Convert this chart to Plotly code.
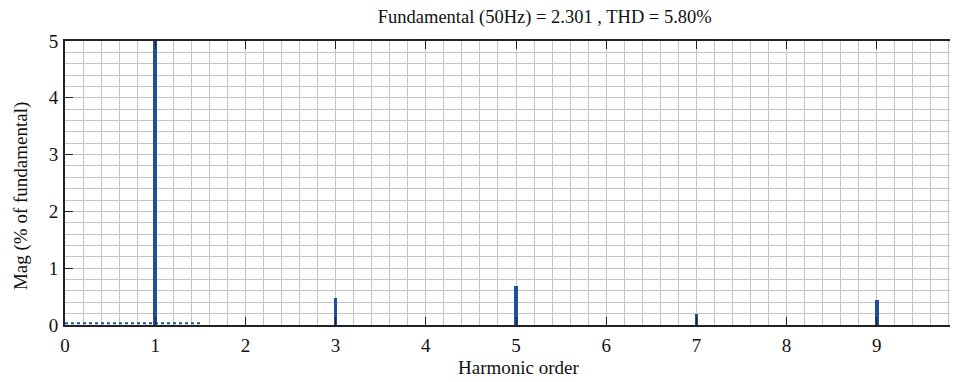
import plotly.graph_objects as go

harmonic_order = [1, 3, 5, 7, 9]
magnitude_pct = [100, 0.48, 0.69, 0.19, 0.44]
subharmonic_x = [0, 1.5]
subharmonic_y = [0.03, 0.03]
x_ticks = [0, 1, 2, 3, 4, 5, 6, 7, 8, 9]
y_ticks = [0, 1, 2, 3, 4, 5]
title_text = "Fundamental (50Hz) = 2.301 , THD = 5.80%"
x_title = "Harmonic order"
y_title = "Mag (% of fundamental)"

BLUE = "#1f4f96"
FONT = "Liberation Serif"
INK = "#111"

fig = go.Figure()
fig.add_trace(go.Scatter(x=subharmonic_x, y=subharmonic_y, mode="lines",
                         line=dict(color=BLUE, width=2, dash="dot"),
                         showlegend=False, hoverinfo="skip"))
fig.add_trace(go.Bar(x=harmonic_order, y=magnitude_pct, width=0.04,
                     marker=dict(color=BLUE, line=dict(width=0)),
                     showlegend=False))

axis_common = dict(
    showline=True, linecolor="#222", linewidth=2, mirror="allticks",
    ticks="inside", ticklen=8, tickcolor="#222", tickwidth=1,
    showgrid=True, gridcolor="#c4c4c4", gridwidth=1,
    minor=dict(dtick=0.2, showgrid=True, gridcolor="#c4c4c4", gridwidth=1, ticks=""),
    zeroline=False, automargin=False,
    tickfont=dict(family=FONT, size=19, color=INK),
)

fig.update_xaxes(range=[0, 9.9], tickvals=x_ticks, ticklabelstandoff=2, **axis_common)
fig.update_yaxes(range=[0, 5], tickvals=y_ticks, ticklabelstandoff=1, **axis_common)

fig.add_annotation(text=x_title, xref="paper", yref="paper", x=0.508, y=-0.151,
                   xanchor="center", yanchor="middle", showarrow=False,
                   font=dict(family=FONT, size=19, color=INK))
fig.add_annotation(text=y_title, xref="paper", yref="paper", x=-0.0493, y=0.454,
                   xanchor="center", yanchor="middle", showarrow=False, textangle=-90,
                   font=dict(family=FONT, size=19, color=INK))

fig.update_layout(
    width=950, height=374,
    margin=dict(l=57, r=0, t=33, b=57, autoexpand=False),
    paper_bgcolor="white", plot_bgcolor="white",
    title=dict(text=title_text, x=0.565, xanchor="center", y=0.976, yanchor="middle",
               font=dict(family=FONT, size=18.5, color=INK), automargin=False),
    bargap=0,
)

fig.write_html("out.html")
